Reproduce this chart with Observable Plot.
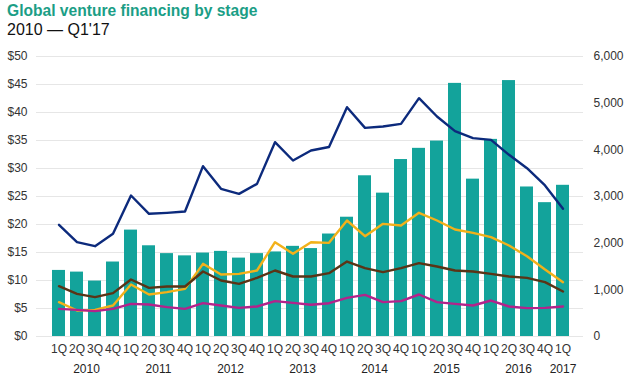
<!DOCTYPE html>
<html>
<head>
<meta charset="utf-8">
<script src="https://cdn.jsdelivr.net/npm/d3@7"></script>
<script src="https://cdn.jsdelivr.net/npm/@observablehq/plot@0.6"></script>
<style>
  body { margin: 0; background: #fff; font-family: "Liberation Sans", Arial, sans-serif; }
  #title { position: absolute; left: 7px; top: 2px; font-size: 15.6px; font-weight: bold; color: #1b9e86; }
  #subtitle { position: absolute; left: 7px; top: 21px; font-size: 16px; color: #111; }
  #chart { position: absolute; left: 0; top: 44px; }
</style>
</head>
<body>
<div id="title">Global venture financing by stage</div>
<div id="subtitle">2010 — Q1'17</div>
<div id="chart"></div>
<script>
const years = ["2010","2011","2012","2013","2014","2015","2016","2017"];
const quarters = ["1Q","2Q","3Q","4Q"];
// category keys: year + quarter, 1Q 2010 .. 1Q 2017
const periods = [];
for (const y of years) for (const q of quarters) if (!(y === "2017" && q !== "1Q")) periods.push(y + " " + q);

// total venture financing ($B), left axis
const financing = [11.8, 11.5, 9.9, 13.3, 19.0, 16.2, 14.8, 14.4, 14.9, 15.2, 14.0, 14.8, 15.1, 16.1, 15.7, 18.3,
  21.3, 28.7, 25.6, 31.6, 33.6, 34.9, 45.2, 28.1, 35.2, 45.7, 26.7, 23.9, 27.0];
// deal counts, right axis
const totalDeals = [2393, 2021, 1935, 2200, 3021, 2629, 2650, 2679, 3650, 3164, 3057, 3271, 4164, 3771, 3986, 4060,
  4914, 4471, 4500, 4557, 5107, 4714, 4400, 4250, 4214, 3893, 3607, 3236, 2736];
const angelSeed = [735, 557, 571, 664, 1114, 900, 950, 1021, 1557, 1329, 1343, 1414, 2021, 1771, 2021, 2007,
  2486, 2150, 2414, 2379, 2650, 2486, 2293, 2221, 2129, 1950, 1721, 1436, 1164];
const earlyStage = [1078, 914, 843, 929, 1221, 1043, 1071, 1071, 1393, 1200, 1129, 1257, 1414, 1286, 1286, 1357,
  1607, 1464, 1379, 1464, 1571, 1500, 1414, 1393, 1343, 1286, 1257, 1164, 964];
const laterStage = [593, 571, 543, 593, 700, 686, 629, 593, 714, 664, 614, 643, 757, 721, 679, 714,
  829, 893, 736, 757, 900, 736, 700, 664, 771, 643, 607, 614, 643];

const leftTicks = [0, 5, 10, 15, 20, 25, 30, 35, 40, 45, 50];
const rightTicks = [0, 1000, 2000, 3000, 4000, 5000, 6000];

const ratio = 50 / 6000; // right axis value -> left axis units

const bars = periods.map((p, i) => ({period: p, value: financing[i]}));
const seriesDefs = [
  {name: "Total deals", values: totalDeals, color: "#0c2a7c"},
  {name: "Angel/seed", values: angelSeed, color: "#f2b11a"},
  {name: "Early stage", values: earlyStage, color: "#5a3416"},
  {name: "Later stage", values: laterStage, color: "#b3238b"}
];
const lines = seriesDefs.flatMap(s => periods.map((p, i) => ({period: p, series: s.name, count: s.values[i]})));
const fullYears = years.filter(y => y !== "2017").map(y => ({year: y, anchor: y + " 2Q"}));
const partialYears = [{year: "2017", anchor: "2017 1Q"}];

const chart = Plot.plot({
  width: 638,
  height: 336,
  marginTop: 12,
  marginLeft: 33,
  marginRight: 51,
  marginBottom: 44,
  style: {fontFamily: "'Liberation Sans', Arial, sans-serif", fontSize: "12px", color: "#333", background: "#fff"},
  x: {domain: periods, padding: 0.3, axis: null},
  y: {domain: [0, 50], axis: null},
  color: {domain: seriesDefs.map(s => s.name), range: seriesDefs.map(s => s.color)},
  marks: [
    Plot.ruleY(leftTicks, {y: d => d, stroke: "#e6e6e6", strokeWidth: 1, insetLeft: 3, insetRight: 4}),
    Plot.axisY(leftTicks, {anchor: "left", label: null, tickSize: 0, tickPadding: 6, tickFormat: d => "$" + d, fontSize: 12, fill: "#333"}),
    Plot.axisY(rightTicks.map(d => d * ratio), {anchor: "right", label: null, tickSize: 0, tickPadding: 6, tickFormat: d => d3.format(",")(Math.round(d / ratio)), fontSize: 12, fill: "#333"}),
    Plot.barY(bars, {x: "period", y: "value", fill: "#13a39b"}),
    Plot.line(lines, {x: "period", y: d => d.count * ratio, z: "series", stroke: "series", strokeWidth: 2.4, curve: "linear"}),
    Plot.axisX({label: null, tickSize: 0, tickPadding: 8, tickFormat: d => d.slice(5), fontSize: 12, fill: "#333"}),
    Plot.text(fullYears, {x: "anchor", text: "year", frameAnchor: "bottom", dy: 36, dx: 9.5, fontSize: 12, fill: "#222"}),
    Plot.text(partialYears, {x: "anchor", text: "year", frameAnchor: "bottom", dy: 36, dx: 0, fontSize: 12, fill: "#222"})
  ]
});
document.getElementById("chart").appendChild(chart);
</script>
</body>
</html>
